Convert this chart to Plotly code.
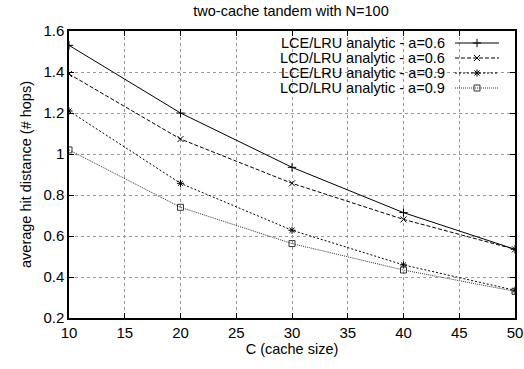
import plotly.graph_objects as go

# ---- data ----
cache_size = [10, 20, 30, 40, 50]
lce_a06 = [1.53, 1.20, 0.935, 0.714, 0.535]
lcd_a06 = [1.39, 1.073, 0.857, 0.681, 0.535]
lce_a09 = [1.21, 0.857, 0.628, 0.459, 0.335]
lcd_a09 = [1.02, 0.74, 0.563, 0.434, 0.33]

series_names = ["LCE/LRU analytic - a=0.6", "LCD/LRU analytic - a=0.6",
                "LCE/LRU analytic - a=0.9", "LCD/LRU analytic - a=0.9"]
series_values = [lce_a06, lcd_a06, lce_a09, lcd_a09]
series_dash = ["solid", "4px,2px", "2px,2px", "1px,1px"]
series_symbol = ["cross-thin", "x-thin", "asterisk", "square-open"]
series_color = ["#000000", "#000000", "#000000", "#333333"]

x_ticks = [10, 15, 20, 25, 30, 35, 40, 45, 50]
y_ticks = [0.2, 0.4, 0.6, 0.8, 1.0, 1.2, 1.4, 1.6]
y_tick_labels = ["0.2", "0.4", "0.6", "0.8", "1", "1.2", "1.4", "1.6"]

FONT = "Liberation Sans, Arial, Helvetica, sans-serif"
W, H = 524, 369
L, R, T, B = 69, 9, 31, 51
PW, PH = W - L - R, H - T - B


def px_x(p):
    return (p - L) / PW


def px_y(p):
    return (H - B - p) / PH


fig = go.Figure()
for name, vals, dash, sym, col in zip(series_names, series_values, series_dash,
                                      series_symbol, series_color):
    fig.add_trace(go.Scatter(
        x=cache_size, y=vals, mode="lines+markers", name=name,
        line=dict(color=col, width=1, dash=dash),
        marker=dict(symbol=sym, size=6, color=col,
                    line=dict(color=col, width=1)),
        showlegend=False,
    ))

# custom gnuplot-style key (text right-aligned, sample on right)
key_rows_px = [43, 58, 73, 88]
text_right_px = 446
sample_x0_px, sample_x1_px = 455, 499
shapes = [dict(type="rect", xref="paper", yref="paper",
               x0=px_x(262), x1=px_x(508), y0=px_y(95), y1=px_y(32),
               fillcolor="white", line=dict(width=0), layer="between")]
annotations = []
for name, dash, sym, col, ry in zip(series_names, series_dash, series_symbol,
                                    series_color, key_rows_px):
    annotations.append(dict(text=name, xref="paper", yref="paper",
                            x=px_x(text_right_px), y=px_y(ry), xanchor="right",
                            yanchor="middle", showarrow=False, borderpad=0,
                            font=dict(family=FONT, size=14.5, color="black")))
    shapes.append(dict(type="line", xref="paper", yref="paper",
                       x0=px_x(sample_x0_px), x1=px_x(sample_x1_px),
                       y0=px_y(ry), y1=px_y(ry),
                       line=dict(color=col, width=1, dash=dash)))
    fig.add_trace(go.Scatter(
        x=[px_x((sample_x0_px + sample_x1_px) / 2)], y=[px_y(ry)],
        xaxis="x2", yaxis="y2", mode="markers", showlegend=False,
        marker=dict(symbol=sym, size=6, color=col,
                    line=dict(color=col, width=1)),
        hoverinfo="skip"))

axis_common = dict(showline=True, linecolor="black", linewidth=1.5,
                   mirror="ticks", ticks="inside", ticklen=5,
                   tickcolor="black", showgrid=True, gridcolor="#9a9a9a",
                   griddash="dot", gridwidth=1, zeroline=False,
                   tickfont=dict(family=FONT, size=15, color="black"))

fig.update_layout(
    width=W, height=H,
    margin=dict(l=L, r=R, t=T, b=B, pad=0),
    paper_bgcolor="white", plot_bgcolor="white",
    font=dict(family=FONT, size=14.5, color="black"),
    title=dict(text="two-cache tandem with N=100", x=291 / W,
               xanchor="center", y=1 - 11 / H, yanchor="middle",
               font=dict(family=FONT, size=14.5, color="black")),
    xaxis=dict(range=[10, 50], tickvals=x_ticks, automargin=False,
               title=dict(text="C (cache size)", standoff=4,
                          font=dict(family=FONT, size=14.5)),
               **axis_common),
    yaxis=dict(range=[0.2, 1.6], tickvals=y_ticks, ticktext=y_tick_labels,
               automargin=False,
               title=dict(text="average hit distance (# hops)", standoff=8,
                          font=dict(family=FONT, size=14.5)),
               **axis_common),
    xaxis2=dict(overlaying="x", range=[0, 1], visible=False),
    yaxis2=dict(overlaying="y", range=[0, 1], visible=False),
    shapes=shapes, annotations=annotations,
)

fig.write_html("out.html", config={"displayModeBar": False},
               post_script="document.body.style.margin='0';")
